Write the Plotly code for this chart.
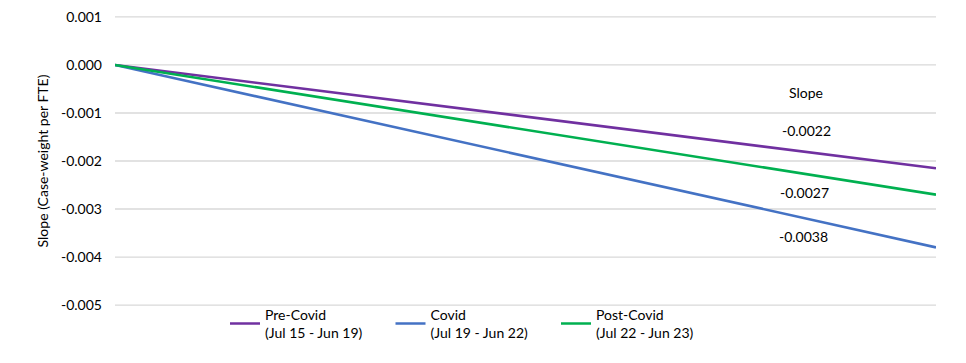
import plotly.graph_objects as go

series_names = ["Pre-Covid<br>(Jul 15 - Jun 19)", "Covid<br>(Jul 19 - Jun 22)", "Post-Covid<br>(Jul 22 - Jun 23)"]
x_vals = [0, 1]
pre_covid = [0.0, -0.00215]
covid = [0.0, -0.0038]
post_covid = [0.0, -0.0027]
colors = ["#7030A0", "#4472C4", "#00B050"]
y_ticks = [-0.005, -0.004, -0.003, -0.002, -0.001, 0.0, 0.001]
y_tick_labels = ["-0.005", "-0.004", "-0.003", "-0.002", "-0.001", "0.000", "0.001"]

slope_labels = ["Slope", "-0.0022", "-0.0027", "-0.0038"]
slope_label_x = [0.842, 0.842, 0.840, 0.839]
slope_label_y = [-0.00058, -0.00137, -0.00266, -0.00358]

font_family = "Lato, 'Liberation Sans', Arial, sans-serif"

fig = go.Figure()
for name, ys, c in zip(series_names, [pre_covid, covid, post_covid], colors):
    fig.add_trace(go.Scatter(x=x_vals, y=ys, mode="lines", name=name,
                             line=dict(color=c, width=2.6)))

# gridlines at each tick value (drawn below the traces)
for v in y_ticks:
    fig.add_shape(type="line", xref="paper", yref="y", x0=0, x1=1, y0=v, y1=v,
                  line=dict(color="#d9d9d9", width=1.3), layer="below")

for t, xx, yy in zip(slope_labels, slope_label_x, slope_label_y):
    fig.add_annotation(x=xx, y=yy, xref="x", yref="y", text=t, showarrow=False,
                       font=dict(size=14, color="#000000", family=font_family))

fig.update_layout(
    width=966, height=363,
    margin=dict(l=115, r=30, t=16, b=57, autoexpand=False),
    plot_bgcolor="white", paper_bgcolor="white",
    font=dict(family=font_family, size=14, color="#000000"),
    showlegend=True,
    legend=dict(orientation="h", x=110 / 821, xanchor="left", y=0.025, yanchor="top",
                entrywidthmode="pixels", entrywidth=120.5,
                font=dict(size=14, family=font_family, color="#000000"),
                bgcolor="rgba(0,0,0,0)", tracegroupgap=0),
    xaxis=dict(range=[0, 1], showgrid=False, showticklabels=False, zeroline=False,
               showline=False, ticks=""),
    yaxis=dict(range=[-0.00502, 0.00102], tickmode="array", tickvals=y_ticks,
               ticktext=y_tick_labels,
               showgrid=False, zeroline=False,
               showline=False, ticks="", ticklabelstandoff=12,
               title=dict(text="Slope (Case-weight per FTE)", font=dict(size=14), standoff=9),
               tickfont=dict(size=14)),
)

fig.write_html("out.html", post_script="document.body.style.margin='0';",
               config={"displayModeBar": False})
